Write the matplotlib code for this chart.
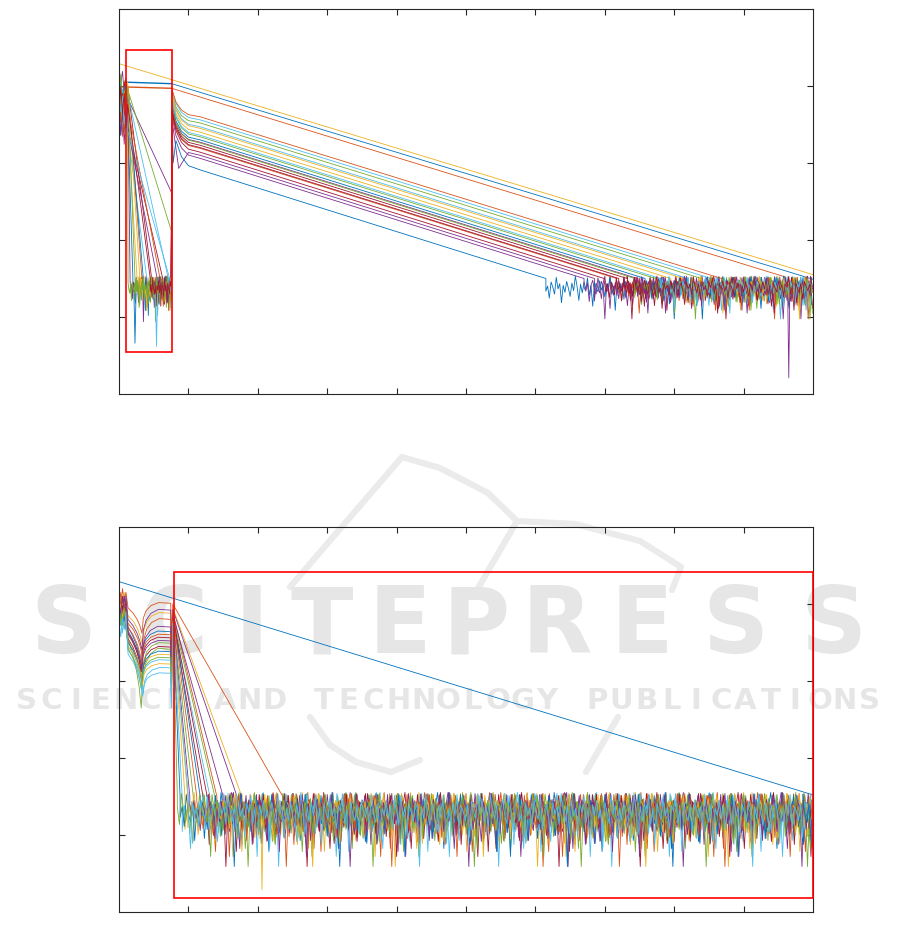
import numpy as np
import matplotlib.pyplot as plt

# MATLAB default colour order
colors = ['#0072BD', '#D95319', '#EDB120', '#7E2F8E', '#77AC30', '#4DBEEE', '#A2142F']

# wiggle of the noise floor, offset from the floor top
noise = [0.03, -0.18, -0.02, -0.26, -0.10, -0.31, 0.02, -0.15, -0.22, -0.08,
         -0.40, -0.12, -0.03, -0.20, -0.27, 0.01, -0.14, -0.35, -0.09, 0.04,
         -0.24, -0.17, -0.52, -0.07, -0.19, -0.11, -0.29, -0.04, -0.16, -0.23,
         0.02, -0.33, -0.13, -0.08, -0.21, -0.45, -0.06, -0.18, -0.10, -0.28,
         0.03, -0.14, -0.25, -0.09, -0.37, -0.05, -0.20, -0.12, -0.30, -0.07,
         -0.16, 0.01, -0.26, -0.11, -0.60, -0.08, -0.19, -0.04, -0.22, -0.13,
         -0.34, -0.06, -0.15, -0.27, 0.02, -0.18, -0.09, -0.42, -0.12, -0.24,
         -0.05, -0.17, -0.31, -0.08, -0.21, 0.04, -0.14, -0.38, -0.10, -0.25,
         -0.06, -0.19, 0.01, -0.29, -0.12, -0.48, -0.07, -0.16, -0.23, -0.04,
         -0.20, -0.11, -0.32, -0.09, -0.15, 0.03, -0.27, -0.13, -0.55, -0.06,
         -0.18, -0.24, -0.08, -0.36, -0.05, -0.14, -0.21, -0.10, -0.30, 0.02,
         -0.17, -0.26, -0.07, -0.44, -0.12, -0.19, -0.04, -0.23, -0.09, -0.33,
         -0.06, -0.15, -0.28, 0.01, -0.20, -0.11, -0.39, -0.08, -0.16, -0.25,
         -0.05, -0.13, -0.70, -0.10, -0.22, 0.03, -0.18, -0.29, -0.07, -0.14,
         -0.35, -0.09, -0.21, -0.04, -0.17, -0.47, -0.12, -0.26, -0.06, -0.19,
         0.02, -0.31, -0.10, -0.15, -0.24, -0.08, -0.41, -0.05, -0.16, -0.22]
start_wiggle = [0.0, -0.22, -0.06, -0.34, -0.15, -0.41, -0.10, -0.28]

floor_top = 1.5
jump_x = 7.6
knee_x = [7.65, 8.2, 9.0, 10.0, 11.7]
knee_frac = [0.0, 0.45, 0.75, 0.92, 1.0]

# ---------------- top panel ----------------
top_flat = [(0.9, 4.05, 100, 1.49), (0.0, 3.99, 96, 1.52)]   # blue, orange
top_diag = [(0, 4.29), (100, 1.55)]                            # yellow
# traces 3..20
top_start = [4.25, 4.15, 3.95, 4.05, 3.90, 4.00, 3.85, 4.10, 3.95,
             4.05, 3.90, 4.00, 3.95, 4.05, 3.90, 4.10, 3.95, 4.00]
top_drop_x = [None, None, 4.0, 4.7, 2.0, 3.3, 2.6, 1.6, 1.3,
              7.1, 6.3, 3.5, 5.9, 3.0, 5.5, 2.3, 7.3, 4.5]
top_direct_y = [2.61, 2.10]
top_peak = [3.55, 3.80, 3.95, 3.70, 3.60, 3.65, 3.85, 3.60, 3.90,
            3.88, 3.65, 3.75, 3.95, 3.88, 3.72, 3.72, 3.82, 3.68]
top_knee = [3.10, 3.34, 3.56, 3.23, 2.91, 3.19, 3.40, 3.06, 3.52,
            3.47, 3.14, 3.30, 3.60, 3.45, 3.27, 3.26, 3.36, 3.20]
top_end = [68.5, 77.3, 85.3, 73.2, 61.5, 71.7, 79.5, 67.0, 83.9,
           82.0, 69.9, 75.8, 86.8, 81.3, 74.7, 74.3, 78.0, 72.0]
top_spikes = [(96.5, 0.21, '#7E2F8E'), (5.4, 0.62, '#4DBEEE'), (2.3, 0.66, '#0072BD')]

# ---------------- bottom panel ----------------
bot_diag = [(0, 4.29), (100, 1.52)]                            # blue
# traces 1..19
bot_start = [4.20, 4.15, 4.10, 4.05, 4.00, 4.05, 4.10, 4.15, 4.00, 4.10,
             4.05, 3.95, 4.10, 4.00, 4.15, 4.00, 4.10, 3.95, 3.90]
bot_mid = [3.95, 3.85, 3.80, 3.55, 3.45, 3.55, 3.70, 3.75, 3.50, 3.65,
           3.60, 3.40, 3.62, 3.50, 3.70, 3.45, 3.62, 3.42, 3.35]
bot_vx = [3.3, 3.4, 3.3, 3.2, 3.5, 3.3, 3.2, 3.4, 3.3, 3.2,
          3.4, 3.3, 3.2, 3.3, 3.3, 3.4, 3.3, 3.2, 3.4]
bot_vy = [3.62, 3.45, 3.40, 2.65, 2.84, 3.00, 3.20, 3.30, 3.05, 3.15,
          3.05, 2.95, 3.12, 3.00, 3.22, 2.95, 3.15, 2.90, 2.80]
bot_arch = [4.01, 3.88, 3.92, 3.41, 3.17, 3.44, 3.64, 3.80, 3.34, 3.70,
            3.49, 3.27, 3.56, 3.38, 3.60, 3.22, 3.52, 3.30, 3.10]
bot_top = [4.00, 3.95, 3.93, 3.85, 3.80, 3.82, 3.88, 3.90, 3.83, 3.86,
           3.80, 3.78, 3.84, 3.80, 3.86, 3.78, 3.82, 3.78, 3.75]
bot_end = [23.6, 17.7, 17.0, 13.8, 13.1, 12.1, 11.7, 14.1, 9.5, 15.0,
           10.7, 9.1, 12.7, 8.8, 11.2, 9.9, 10.2, 8.4, 10.0]
bot_spikes = [(20.6, 0.29, '#EDB120'), (99.9, 0.82, '#7E2F8E')]
lobe_left = [0.0, 0.2, 0.45, 0.7, 1.0]
lobe_right = [0.0, 0.5, 0.75, 0.92, 1.02, 1.0]

# publisher watermark text
wm_title = 'SCITEPRESS'
wm_sub = 'SCIENCE AND TECHNOLOGY PUBLICATIONS'


def floor_noise(x0, x1, step, k, scale):
    xs = np.arange(x0, x1, step)
    vals = np.resize(np.roll(noise, k * 17), len(xs))
    return list(xs), list(floor_top + scale * vals)


W, H = 901, 948
fig = plt.figure(figsize=(W / 100, H / 100), dpi=100)
ax1 = fig.add_axes([0.1321, 0.5844, 0.7703, 0.4061])
ax2 = fig.add_axes([0.1321, 0.0380, 0.7703, 0.4061])
lw = 0.6

# watermark (behind the axes content)
wm_grey = '#e6e6e6'
title_cx = [63, 174, 252, 322, 400, 476, 557, 642, 735, 833]
for ch, cx in zip(wm_title, title_cx):
    fig.text(cx / W, 1 - 653 / H, ch, ha='center', va='baseline', fontsize=66,
             fontweight='bold', color=wm_grey, zorder=-1)
step = 868 / len(wm_sub)
for k, ch in enumerate(wm_sub):
    fig.text((14 + (k + 0.5) * step) / W, 1 - 709 / H, ch, ha='center',
             va='baseline', fontsize=21, fontweight='bold', color=wm_grey, zorder=-1)
logo = [[(290, 587), (402, 457), (440, 468), (488, 493), (517, 521), (575, 524),
         (640, 541), (681, 567), (672, 590)],
        [(517, 521), (477, 590)],
        [(310, 717), (330, 745), (356, 762), (391, 772), (420, 760)],
        [(586, 772), (618, 717)]]
for stroke in logo:
    fig.lines.append(plt.Line2D([p[0] / W for p in stroke], [1 - p[1] / H for p in stroke],
                                transform=fig.transFigure, color='#ebebeb', lw=4.5,
                                solid_capstyle='round', zorder=-1))

# top panel traces
for j, (x0, yf, xe, ye) in enumerate(top_flat):
    ax1.plot([x0, jump_x], [yf, yf - 0.02], color=colors[j], lw=1.0)
    ax1.plot([jump_x, xe], [yf - 0.02, ye], color=colors[j], lw=lw)
    xs, ys = floor_noise(xe, 100, 0.25, j, 0.75)
    ax1.plot(xs, ys, color=colors[j], lw=lw)
ax1.plot([p[0] for p in top_diag], [p[1] for p in top_diag], color=colors[2], lw=lw)

for n in range(len(top_start)):
    i = n + 3
    c = colors[i % 7]
    wig = np.roll(start_wiggle, n)[:6]
    xs = [0, 0.25, 0.5, 0.75, 1.0, 1.25]
    ys = list(top_start[n] + wig * (1 + 0.3 * (n % 3)))
    if top_drop_x[n] is None:
        xs += [jump_x]
        ys += [top_direct_y[n]]
    else:
        nx, ny = floor_noise(top_drop_x[n], jump_x, 0.12, n + 5, 0.8)
        xs += [top_drop_x[n]] + nx
        ys += [floor_top] + ny
    p, k = top_peak[n], top_knee[n]
    xs += knee_x
    ys += [p - f * (p - k) for f in knee_frac]
    if n == 0:   # purple hook after the jump
        xs[-4:-2] = [8.6, 9.4]
        ys[-4:-2] = [2.93, 3.05]
    if n == 4:   # blue dip right after the jump
        xs.insert(-4, 7.8)
        ys.insert(-4, 3.0)
    xs += [top_end[n]]
    ys += [floor_top]
    nx, ny = floor_noise(top_end[n], 100, 0.25, n + 2, 0.75)
    ax1.plot(xs + nx, ys + ny, color=c, lw=lw)

for x, y, c in top_spikes:
    ax1.plot([x - 0.15, x, x + 0.15], [1.3, y, 1.3], color=c, lw=lw)

ax1.add_patch(plt.Rectangle((1.0, 0.545), 6.64, 3.925, fill=False,
                            edgecolor='red', lw=1.2, zorder=5))

# bottom panel traces
ax2.plot([p[0] for p in bot_diag], [p[1] for p in bot_diag], color=colors[0], lw=lw)
for n in range(len(bot_start)):
    i = n + 1
    c = colors[i % 7]
    wig = np.roll(start_wiggle, n + 2)[:5]
    xs = [0, 0.25, 0.5, 0.75, 1.0]
    ys = list(bot_start[n] + 0.8 * wig)
    vx, vy, m, L = bot_vx[n], bot_vy[n], bot_mid[n], bot_arch[n]
    xs += [1.3, vx - 1.3, vx - 0.7, vx - 0.3, vx]
    ys += [m - f * (m - vy) for f in lobe_left]
    xs += [vx + 0.2, vx + 0.6, vx + 1.3, vx + 2.4, 7.45]
    ys += [vy + f * (L - vy) for f in lobe_right[1:]]
    xs += [7.55, 7.75, bot_end[n]]
    ys += [L - 0.45, bot_top[n], floor_top]
    nx, ny = floor_noise(bot_end[n], 100, 0.3, n + 9, 1.3)
    ax2.plot(xs + nx, ys + ny, color=c, lw=lw)
xs, ys = floor_noise(bot_diag[1][0] - 1.5, 100, 0.3, 3, 1.3)
ax2.plot(xs, ys, color=colors[0], lw=lw)

for x, y, c in bot_spikes:
    ax2.plot([x - 0.15, x, x + 0.15], [1.2, y, 1.2], color=c, lw=lw)

ax2.add_patch(plt.Rectangle((7.93, 0.18), 92.07, 4.24, fill=False,
                            edgecolor='red', lw=1.2, zorder=5, clip_on=False))

for ax in (ax1, ax2):
    ax.set_xlim(0, 100)
    ax.set_ylim(0, 5)
    ax.set_xticks(np.arange(10, 100, 10))
    ax.set_yticks([1, 2, 3, 4])
    ax.set_xticklabels([])
    ax.set_yticklabels([])
    ax.tick_params(direction='in', length=4, width=0.8, color='#262626',
                   top=True, right=True)
    for s in ax.spines.values():
        s.set_color('#262626')
        s.set_linewidth(0.8)
    ax.set_facecolor('none')

fig.savefig('out.png', dpi=100)
